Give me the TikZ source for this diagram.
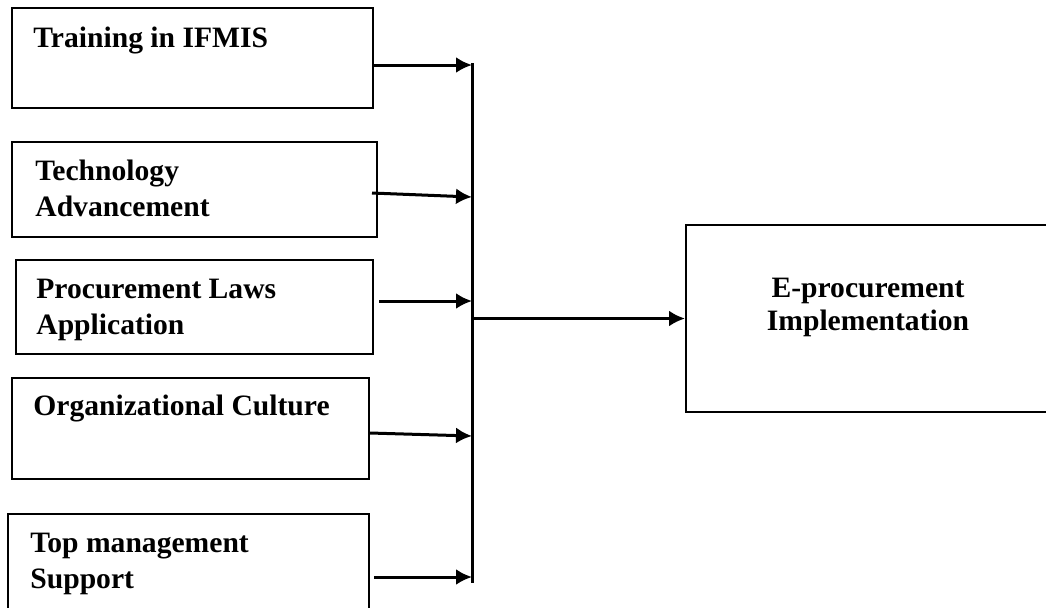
\documentclass[tikz,border=0pt]{standalone}
\usepackage{fontspec}
\setmainfont{Liberation Serif}
\usetikzlibrary{arrows.meta}

\begin{document}
\begin{tikzpicture}[
    x=.5pt,y=-.5pt,font=\fontsize{14.8}{18}\selectfont\bfseries,
    factor/.style={draw,line width=1pt,inner sep=0pt},
    caption/.style={anchor=base west,align=left,inner sep=0pt},
    link/.style={-{Latex[length=8pt,width=8pt]},line width=1.5pt},
    bus/.style={line width=1.5pt}
  ]
    \useasboundingbox (0,0) rectangle (1046,607);

    % The five factors on the left, each with its caption at the top left.
    \node[factor,minimum width=180.5pt,minimum height=50pt] (train) at (192.5,58) {};
    \node[factor,minimum width=182.5pt,minimum height=47.5pt] (tech) at (194.5,189.5) {};
    \node[factor,minimum width=178.5pt,minimum height=47pt] (laws) at (194.5,307) {};
    \node[factor,minimum width=178.5pt,minimum height=50.5pt] (culture) at (190.5,428.5) {};
    \node[factor,minimum width=180.5pt,minimum height=55.5pt] (mgmt) at (188.5,569.5) {};

    % (base of a two-line caption is its second line)
    \node[caption] (trainlbl) at (33,47) {Training in IFMIS};
    \node[caption] (techlbl) at (35,216) {Technology\\Advancement};
    \node[caption] (lawslbl) at (36,334) {Procurement Laws\\Application};
    \node[caption] (culturelbl) at (33,415) {Organizational Culture};
    \node[caption] (mgmtlbl) at (30,588) {Top management\\Support};

    % The outcome box runs a little past the right margin.
    \node[factor,minimum width=182pt,minimum height=93.5pt] (eproc) at (868,318.5) {};
    \node[anchor=base,align=center,inner sep=0pt,
      font=\fontsize{14.8}{16.5}\selectfont\bfseries] (eproclbl) at (868,330)
      {E-procurement\\Implementation};

    % Collecting line and the points where the arrows meet it.
    \coordinate (bustop) at (472,63);
    \coordinate (busbot) at (472,583);
    \coordinate (j1) at (472,65);
    \coordinate (j2) at (472,197);
    \coordinate (j3) at (472,301);
    \coordinate (j4) at (472,436);
    \coordinate (j5) at (472,577);
    \coordinate (hub) at (472,318.5);
    \draw[bus] (bustop)--(busbot);

    \draw[link] (train.east |- j1)--(j1);
    \draw[link] ([xshift=-3pt,yshift=-1.75pt]tech.east)--(j2);
    \draw[link] ([xshift=2.5pt]laws.east |- j3)--(j3);
    \draw[link] ([yshift=-2.25pt]culture.east)--(j4);
    \draw[link] ([xshift=2pt]mgmt.east |- j5)--(j5);

    \draw[link] (hub)--(eproc.west);
  \end{tikzpicture}
\end{document}
